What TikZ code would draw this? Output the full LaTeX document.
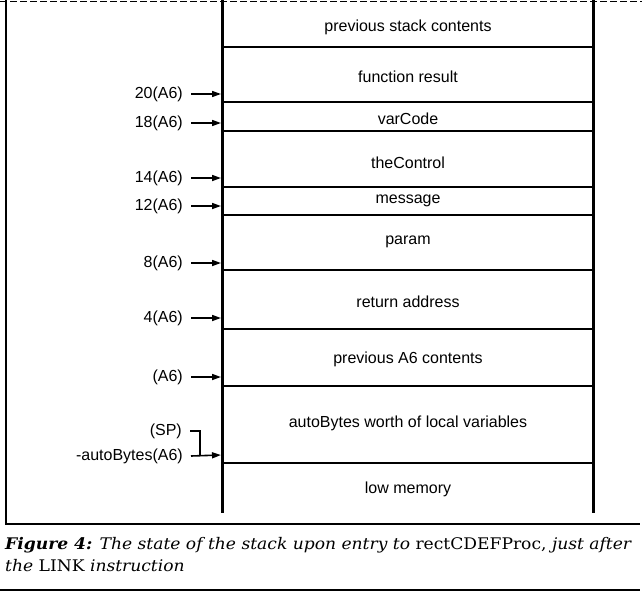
\documentclass[tikz,border=0pt]{standalone}
\usepackage{fontspec}
\setmainfont{Liberation Sans}
\newfontfamily\capfont[FakeStretch=1.07]{DejaVu Serif}
\usetikzlibrary{arrows.meta}
\begin{document}
\begin{tikzpicture}[x=1pt,y=-1pt,
  cell/.style={font=\fontsize{16}{18}\selectfont, anchor=center, inner sep=0pt},
  offs/.style={font=\fontsize{16}{18}\selectfont, anchor=east, inner sep=0pt},
  ptr/.style={line width=1.6pt, -{Triangle[length=9pt,width=6pt]}},
  link/.style={line width=1.6pt},
  divider/.style={line width=2pt},
  stackedge/.style={line width=3pt},
  frame/.style={line width=1.3pt},
  capstyle/.style={font=\capfont\fontsize{16}{21}\selectfont, anchor=base west, inner sep=0pt}]
\useasboundingbox (0,0) rectangle (642,594);
% outer frame
\draw[frame] (6,0) -- (6,524) -- (640,524);
\draw[line width=0.6pt, dash pattern=on 7pt off 3pt] (0,1) -- (642,1);
\draw[frame] (0,590) -- (640,590);
% stack edges
\draw[stackedge] (222,0) -- (222,513);
\draw[stackedge] (593,0) -- (593,513);
% dividers
\foreach \yy in {47,102,131,187,215,270,329,386,463}
  \draw[divider] (222,\yy) -- (593,\yy);
% cell texts
\node[cell] (c1) at (408,27) {previous stack contents};
\node[cell] (c2) at (408,77) {function result};
\node[cell] (c3) at (408,119) {varCode};
\node[cell] (c4) at (408,163) {theControl};
\node[cell] (c5) at (408,201) {message};
\node[cell] (c6) at (408,242) {param};
\node[cell] (c7) at (408,302) {return address};
\node[cell] (c8) at (408,359) {previous A6 contents};
\node[cell] (c9) at (408,423) {autoBytes worth of local variables};
\node[cell] (c10) at (408,489) {low memory};
% offset labels and pointers
\foreach \nm/\yy/\txt in {o20/94/20(A6), o18/123/18(A6), o14/178/14(A6), o12/206/12(A6), o8/263/8(A6), o4/318/4(A6), oa6/377/(A6)}{
  \node[offs] (\nm) at (183,\yy) {\txt};
  \coordinate (\nm t) at (221,\yy);
  \draw[ptr] ([xshift=8pt]\nm.east) -- (\nm t);
}
\node[offs] (sp) at (182,431) {(SP)};
\node[offs] (ab) at (183,456) {-autoBytes(A6)};
\coordinate (abt) at (221,455);
\coordinate (join) at (200,455);
\draw[link] ([xshift=8pt]sp.east) -| (join);
\draw[ptr] ([xshift=8pt]ab.east) -- (abt);
% caption
\node[capstyle] (cap1) at (5,549) {\textbf{\textit{Figure 4:}} \textit{The state of the stack upon entry to} rectCDEFProc, \textit{just after}};
\node[capstyle] (cap2) at (5,571) {\textit{the} LINK \textit{instruction}};
\end{tikzpicture}
\end{document}
